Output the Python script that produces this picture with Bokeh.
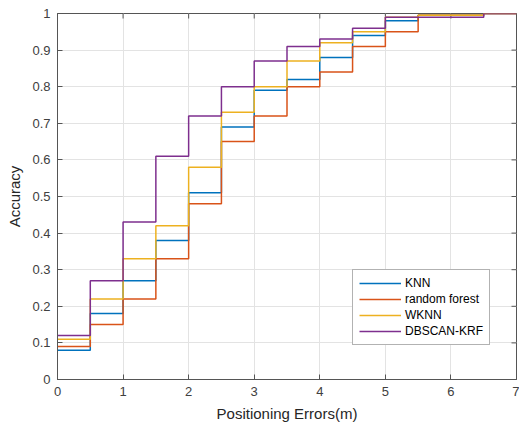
from bokeh.plotting import figure
from bokeh.models import LinearAxis, FixedTicker, Range1d, Legend, LegendItem, Grid
from bokeh.embed import file_html
from bokeh.resources import INLINE

# Positioning error thresholds (m) and cumulative accuracy for each method
errors = [0, 0.5, 1.0, 1.5, 2.0, 2.5, 3.0, 3.5, 4.0, 4.5, 5.0, 5.5, 6.0, 6.5, 7.0]
knn = [0.08, 0.18, 0.27, 0.38, 0.51, 0.69, 0.79, 0.82, 0.88, 0.94, 0.98, 0.995, 0.995, 1.0, 1.0]
random_forest = [0.09, 0.15, 0.22, 0.33, 0.48, 0.65, 0.72, 0.80, 0.84, 0.91, 0.95, 0.995, 0.995, 1.0, 1.0]
wknn = [0.11, 0.22, 0.33, 0.42, 0.58, 0.73, 0.80, 0.87, 0.92, 0.95, 0.99, 0.995, 0.995, 1.0, 1.0]
dbscan_krf = [0.12, 0.27, 0.43, 0.61, 0.72, 0.80, 0.87, 0.91, 0.93, 0.96, 0.99, 0.99, 0.99, 1.0, 1.0]

series_names = ["KNN", "random forest", "WKNN", "DBSCAN-KRF"]
series_values = [knn, random_forest, wknn, dbscan_krf]
colors = ["#0072BD", "#D95319", "#EDB120", "#7E2F8E"]

x_ticks = [0, 1, 2, 3, 4, 5, 6, 7]
y_ticks = [0, 0.1, 0.2, 0.3, 0.4, 0.5, 0.6, 0.7, 0.8, 0.9, 1.0]
X_MIN, X_MAX = 0, 7
Y_MIN, Y_MAX = 0, 1

FONT = "Liberation Sans"
AXIS_COLOR = "#555555"
LABEL_COLOR = "#404040"

p = figure(width=519, height=424, output_backend="svg", toolbar_location=None,
           x_range=Range1d(X_MIN, X_MAX), y_range=Range1d(Y_MIN, Y_MAX),
           min_border_left=57, min_border_right=3, min_border_top=13, min_border_bottom=45)
p.background_fill_color = "white"
p.border_fill_color = "white"
p.outline_line_color = AXIS_COLOR
p.outline_line_width = 1

# Replace default axes and grids with boxed, inward-tick versions
p.xaxis.visible = False
p.yaxis.visible = False
p.xgrid.visible = False
p.ygrid.visible = False


def styled_axis(ticks, label):
    ax = LinearAxis(ticker=FixedTicker(ticks=ticks))
    ax.major_tick_in = 5
    ax.major_tick_out = 0
    ax.minor_tick_line_color = None
    ax.axis_line_color = AXIS_COLOR
    ax.major_tick_line_color = AXIS_COLOR
    ax.major_label_text_font = FONT
    ax.major_label_text_color = LABEL_COLOR
    ax.major_label_text_font_size = "13px"
    ax.major_label_standoff = 7
    ax.axis_label = label
    ax.axis_label_text_font = FONT
    ax.axis_label_text_font_size = "15px"
    ax.axis_label_text_font_style = "normal"
    ax.axis_label_text_color = "#262626"
    ax.axis_label_standoff = 6
    return ax


xb = styled_axis(x_ticks, "Positioning Errors(m)")
yl = styled_axis(y_ticks, "Accuracy")
yl.major_label_overrides = {0: "0", 1: "1"}
p.add_layout(xb, "below")
p.add_layout(yl, "left")

p.add_layout(Grid(dimension=0, ticker=FixedTicker(ticks=x_ticks), grid_line_color="#e3e3e3", grid_line_width=1))
p.add_layout(Grid(dimension=1, ticker=FixedTicker(ticks=y_ticks), grid_line_color="#e3e3e3", grid_line_width=1))

# Inward tick marks along the top and right edges of the box
top_len = (Y_MAX - Y_MIN) * 5 / 366
right_len = (X_MAX - X_MIN) * 5 / 459
p.segment(x0=x_ticks, y0=[Y_MAX] * len(x_ticks), x1=x_ticks, y1=[Y_MAX - top_len] * len(x_ticks),
          line_color=AXIS_COLOR, line_width=1)
p.segment(x0=[X_MAX] * len(y_ticks), y0=y_ticks, x1=[X_MAX - right_len] * len(y_ticks), y1=y_ticks,
          line_color=AXIS_COLOR, line_width=1)

items = []
for name, vals, col in zip(series_names, series_values, colors):
    r = p.step(errors, vals, mode="after", line_color=col, line_width=1.5)
    items.append(LegendItem(label=name, renderers=[r]))

legend = Legend(items=items, location=(295, 34))
legend.label_text_font = FONT
legend.label_text_font_size = "12px"
legend.label_text_color = "#000000"
legend.border_line_color = "#666666"
legend.border_line_width = 1
legend.background_fill_color = "white"
legend.background_fill_alpha = 1
legend.glyph_width = 42
legend.glyph_height = 14
legend.label_height = 14
legend.spacing = 2
legend.padding = 6
legend.margin = 0
legend.label_standoff = 4
p.add_layout(legend, "center")

open("out.html", "w").write(file_html(p, INLINE))
